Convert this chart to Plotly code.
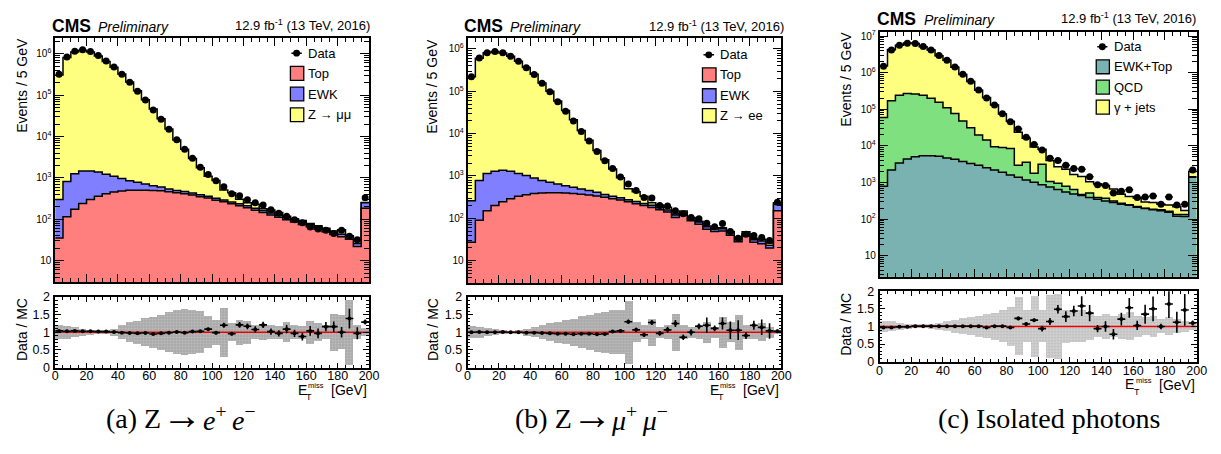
import plotly.graph_objects as go

W, H = 1221, 454
SANS = "Liberation Sans, Arial, Helvetica, sans-serif"
SERIF = "Liberation Serif, Times New Roman, serif"

# ---------------- binning (5 GeV bins, last bin holds the overflow) ----------------
edges = list(range(0, 205, 5))
centers = [e + 2.5 for e in edges[:-1]]

# ---------------- (a) dimuon-like selection ----------------
data_a = [3.2e5, 8.4e5, 1.15e6, 1.26e6, 1.13e6, 9.1e5, 6.7e5, 4.8e5, 3.2e5, 2.05e5,
          1.25e5, 7.6e4, 4.4e4, 2.6e4, 1.5e4, 8.4e3, 4.9e3, 3.0e3, 1.8e3, 1.2e3,
          850, 610, 415, 370, 295, 250, 220, 170, 140, 118,
          98, 82, 65, 58, 54, 45, 54, 39, 32, 330]
top_a = [35, 115, 175, 240, 300, 360, 415, 455, 480, 500,
         500, 500, 495, 490, 460, 435, 415, 385, 350, 325,
         290, 265, 237, 213, 190, 165, 145, 127, 112, 98,
         86, 75, 66, 57, 50, 43, 38, 33, 22, 185]
ewk_a = [265, 700, 1085, 1220, 1160, 1020, 815, 645, 485, 350,
         280, 210, 155, 110, 80, 64, 53, 46, 40, 36,
         32, 28, 25, 23, 21, 19, 17, 15, 13, 12,
         11, 10, 9, 8, 7, 6, 5.5, 5, 4, 65]
zll_a = [3.08e5, 8.15e5, 1.1e6, 1.22e6, 1.1e6, 8.9e5, 6.54e5, 4.74e5, 3.22e5, 2.08e5,
         1.28e5, 7.7e4, 4.56e4, 2.62e4, 1.47e4, 7.8e3, 4.48e3, 2.51e3, 1.36e3, 740,
         545, 215, 175, 67, 41, 46, 18, 25, 21, 8,
         6, 8, 4, 5, 4, 3, 12, 2, 6, 5]
ratio_a = [1.04, 1.03, 1.04, 1.03, 1.03, 1.02, 1.02, 1.01, 0.99, 0.98,
           0.97, 0.98, 0.95, 0.97, 0.99, 1.01, 0.99, 1.02, 1.03, 1.09,
           0.99, 1.2, 0.96, 1.21, 1.17, 1.08, 1.21, 1.02, 0.97, 1.09,
           0.97, 0.88, 1.04, 0.97, 1.16, 1.16, 1.0, 1.39, 0.97, 1.29]
ratio_err_a = [0.01, 0.01, 0.01, 0.01, 0.01, 0.01, 0.01, 0.01, 0.01, 0.01,
               0.01, 0.01, 0.015, 0.015, 0.02, 0.02, 0.025, 0.03, 0.03, 0.04,
               0.05, 0.07, 0.05, 0.08, 0.08, 0.09, 0.09, 0.09, 0.09, 0.12,
               0.1, 0.11, 0.14, 0.14, 0.13, 0.15, 0.15, 0.28, 0.17, 0.07]
mc_unc_a = [0.2, 0.18, 0.14, 0.1, 0.07, 0.05, 0.06, 0.1, 0.2, 0.28,
            0.33, 0.4, 0.44, 0.5, 0.57, 0.62, 0.65, 0.62, 0.6, 0.45,
            0.35, 0.7, 0.25, 0.36, 0.33, 0.2, 0.22, 0.2, 0.18, 0.28,
            0.2, 0.18, 0.32, 0.25, 0.2, 0.53, 0.48, 0.92, 0.2, 0.12]

# ---------------- (b) dielectron-like selection ----------------
data_b = [2.2e5, 6.1e5, 8.1e5, 8.7e5, 8.1e5, 6.7e5, 5.1e5, 3.6e5, 2.5e5, 1.55e5,
          9.7e4, 5.7e4, 3.4e4, 2.0e4, 1.13e4, 6.7e3, 3.8e3, 2.3e3, 1.5e3, 940,
          650, 455, 310, 300, 200, 195, 150, 128, 105, 98,
          76, 63, 75, 49, 34, 42, 39, 35, 30, 240]
top_b = [27, 90, 150, 200, 245, 290, 330, 360, 385, 395,
         400, 400, 395, 385, 370, 355, 335, 315, 290, 270,
         245, 220, 200, 180, 160, 140, 105, 118, 88, 72,
         55, 49, 50, 40, 28, 38, 27, 25, 20, 150]
ewk_b = [233, 690, 1000, 1100, 1125, 1010, 820, 660, 505, 385,
         315, 250, 195, 155, 125, 100, 80, 52, 40, 35,
         31, 28, 25, 23, 20, 18, 15, 14, 12, 10,
         8, 7, 7, 6, 4, 5, 4, 4, 3, 65]
zll_b = [2.197e5, 6.03e5, 8.09e5, 8.69e5, 7.99e5, 6.69e5, 5.09e5, 3.63e5, 2.52e5, 1.57e5,
         9.93e4, 5.87e4, 3.48e4, 2.07e4, 1.13e4, 6.52e3, 3.6e3, 2.04e3, 1.14e3, 600,
         224, 177, 108, 31, 26, 24, 6, 17, 5, 3,
         3, 3, 3, 3, 3, 5, 3, 3, 3, 18]
ratio_b = [1.0, 1.01, 1.0, 1.0, 1.01, 1.0, 1.0, 0.99, 0.99, 0.98,
           0.97, 0.96, 0.96, 0.945, 0.96, 0.96, 0.945, 0.955, 1.02, 1.04,
           1.3, 1.07, 0.93, 1.28, 0.97, 1.07, 1.25, 0.86, 1.0, 1.17,
           1.2, 1.11, 1.25, 1.06, 1.06, 0.91, 1.2, 1.14, 1.04, 1.03]
ratio_err_b = [0.01, 0.01, 0.01, 0.01, 0.01, 0.01, 0.01, 0.01, 0.01, 0.01,
               0.01, 0.01, 0.015, 0.015, 0.02, 0.02, 0.025, 0.03, 0.03, 0.04,
               0.06, 0.06, 0.06, 0.07, 0.07, 0.09, 0.1, 0.08, 0.09, 0.08,
               0.22, 0.08, 0.17, 0.25, 0.28, 0.1, 0.13, 0.22, 0.22, 0.05]
mc_unc_b = [0.17, 0.15, 0.12, 0.08, 0.05, 0.04, 0.06, 0.1, 0.14, 0.2,
            0.25, 0.3, 0.34, 0.38, 0.45, 0.5, 0.55, 0.58, 0.63, 0.63,
            0.9, 0.28, 0.2, 0.38, 0.15, 0.2, 0.52, 0.2, 0.15, 0.2,
            0.3, 0.15, 0.44, 0.28, 0.5, 0.2, 0.2, 0.25, 0.15, 0.05]

# ---------------- (c) isolated photons ----------------
data_c = [1.5e6, 4.2e6, 5.6e6, 6.4e6, 6.3e6, 5.2e6, 4.2e6, 2.95e6, 2.2e6, 1.42e6,
          9.1e5, 5.8e5, 3.35e5, 2.03e5, 1.32e5, 7.6e4, 4.6e4, 2.9e4, 1.73e4, 1.1e4,
          7.7e3, 4.6e3, 4.0e3, 2.95e3, 2.4e3, 2.3e3, 1.45e3, 870, 830, 520,
          580, 640, 390, 400, 430, 255, 400, 245, 255, 2.2e3]
ewktop_c = [790, 2200, 3400, 4400, 5100, 5400, 5400, 5200, 4700, 4300,
            3750, 3300, 2950, 2550, 2200, 1900, 1600, 1400, 1180, 1020,
            870, 760, 650, 555, 490, 445, 390, 350, 315, 285,
            257, 240, 210, 195, 180, 170, 155, 120, 118, 1400]
qcd_c = [5.9e4, 1.68e5, 2.37e5, 2.66e5, 2.55e5, 2.35e5, 1.95e5, 1.5e5, 1.05e5, 7.2e4,
         4.4e4, 2.8e4, 1.7e4, 1.2e4, 7.3e3, 7.1e3, 6.9e3, 1.55e3, 2.4e3, 780,
         2.3e3, 310, 310, 235, 160, 30, 130, 40, 60, 30,
         13, 7, 13, 5, 7, 10, 10, 15, 17, 50]
gjets_c = [1.49e6, 4.16e6, 5.42e6, 6.19e6, 5.98e6, 4.91e6, 3.96e6, 2.77e6, 2.07e6, 1.33e6,
           8.5e5, 5.43e5, 3.12e5, 1.95e5, 1.21e5, 6.6e4, 3.89e4, 2.07e4, 1.26e4, 7.5e3,
           5.0e3, 2.93e3, 1.74e3, 1.51e3, 1.02e3, 985, 530, 535, 455, 352,
           210, 171, 156, 96, 100, 75, 79, 84, 38, 550]
ratio_c = [0.97, 0.97, 0.99, 0.99, 1.01, 1.01, 1.01, 1.01, 1.01, 1.01,
           1.01, 1.01, 1.01, 0.97, 1.01, 1.01, 0.97, 1.23, 1.07, 1.18,
           0.94, 1.14, 1.49, 1.28, 1.44, 1.58, 1.38, 0.94, 1.0, 0.78,
           1.21, 1.53, 1.03, 1.35, 1.5, 1.0, 1.64, 1.12, 1.47, 1.1]
ratio_err_c = [0.01, 0.01, 0.01, 0.01, 0.01, 0.01, 0.01, 0.01, 0.01, 0.01,
               0.01, 0.01, 0.01, 0.015, 0.015, 0.02, 0.02, 0.05, 0.05, 0.05,
               0.08, 0.1, 0.12, 0.15, 0.15, 0.28, 0.23, 0.1, 0.15, 0.15,
               0.18, 0.28, 0.13, 0.27, 0.35, 0.08, 0.4, 0.3, 0.45, 0.07]
mc_unc_c = [0.16, 0.14, 0.1, 0.07, 0.05, 0.05, 0.07, 0.1, 0.14, 0.18,
            0.22, 0.26, 0.3, 0.34, 0.38, 0.45, 0.55, 0.83, 0.45, 0.86,
            0.45, 0.9, 0.92, 0.47, 0.45, 0.45, 0.4, 0.3, 0.35, 0.3,
            0.35, 0.4, 0.3, 0.25, 0.3, 0.2, 0.25, 0.2, 0.15, 0.1]

# ---------------- colours ----------------
C_TOP = "#ff7f7f"
C_EWK = "#7f7fff"
C_Z = "#ffff7f"
C_EWKTOP = "#7ab2b2"
C_QCD = "#7fe07f"
C_BAND_AB = "#a8a8a8"
C_BAND_C = "#d2d2d2"


def px(x):
    return x / W


def py(y):
    return 1 - y / H


def stack(components):
    """Running sums of the stacked components, bottom first."""
    out, run = [], [0.0] * len(components[0])
    for comp in components:
        run = [r + c for r, c in zip(run, comp)]
        out.append(run)
    return out


def step_y(vals):
    return list(vals) + [vals[-1]]


fig = go.Figure()


def add_main(idx, components, colors, data, xerr=False):
    xa, ya = f"x{idx}", f"y{idx}"
    cums = stack(components)
    # draw from the top of the stack downwards so lower layers sit on top
    for cum, col in reversed(list(zip(cums, colors))):
        fig.add_trace(go.Scatter(
            x=edges, y=step_y(cum), mode="lines", line_shape="hv",
            line=dict(color="black", width=1.5), fill="tozeroy", fillcolor=col,
            xaxis=xa, yaxis=ya, showlegend=False, hoverinfo="skip"))
    err_x = dict(type="constant", value=2.5, width=0, thickness=1.5, color="black") if xerr else None
    fig.add_trace(go.Scatter(
        x=centers, y=data, mode="markers",
        marker=dict(symbol="circle", size=7, color="black"),
        error_x=err_x, xaxis=xa, yaxis=ya, showlegend=False))


def add_ratio(idx, ratio, err, unc, band_color, dot_color):
    xa, ya = f"x{idx}", f"y{idx}"
    fig.add_trace(go.Bar(
        x=centers, y=[2 * u for u in unc], base=[1 - u for u in unc], width=5,
        marker=dict(color=band_color, line=dict(width=0),
                    pattern=dict(shape=".", fgcolor=dot_color, size=3, solidity=0.35)),
        xaxis=xa, yaxis=ya, showlegend=False, hoverinfo="skip"))
    fig.add_trace(go.Scatter(
        x=[0, 200], y=[1, 1], mode="lines", line=dict(color="#ee0000", width=1.5),
        xaxis=xa, yaxis=ya, showlegend=False, hoverinfo="skip"))
    fig.add_trace(go.Scatter(
        x=centers, y=ratio, mode="markers",
        marker=dict(symbol="circle", size=4, color="black"),
        error_x=dict(type="constant", value=2.5, width=0, thickness=1.6, color="black"),
        error_y=dict(type="data", array=err, width=0, thickness=1.6, color="black"),
        xaxis=xa, yaxis=ya, showlegend=False))


add_main(1, [top_a, ewk_a, zll_a], [C_TOP, C_EWK, C_Z], data_a)
add_ratio(2, ratio_a, ratio_err_a, mc_unc_a, C_BAND_AB, "#d8d8d8")
add_main(3, [top_b, ewk_b, zll_b], [C_TOP, C_EWK, C_Z], data_b)
add_ratio(4, ratio_b, ratio_err_b, mc_unc_b, C_BAND_AB, "#d8d8d8")
add_main(5, [ewktop_c, qcd_c, gjets_c], [C_EWKTOP, C_QCD, C_Z], data_c, xerr=True)
add_ratio(6, ratio_c, ratio_err_c, mc_unc_c, C_BAND_C, "#9a9a9a")

# ---------------- axes ----------------
log_major = [10 ** k for k in range(1, 8)]
log_text = ["10"] + [f"10<sup>{k}</sup>" for k in range(2, 8)]
log_minor = [m * 10 ** k for k in range(0, 8) for m in range(2, 10)]

panels = {
    "a": dict(x=(52.7, 370.0), main=(32.3, 284.0), ratio=(299.3, 372.0), ylog=(0.4775, 6.375)),
    "b": dict(x=(469.5, 786.7), main=(32.3, 285.0), ratio=(299.3, 372.0), ylog=(0.4666, 6.252)),
    "c": dict(x=(886.0, 1206.5), main=(26.0, 278.3), ratio=(293.3, 366.0), ylog=(0.428, 7.106)),
}

frame = dict(showline=True, linecolor="black", linewidth=1.6, mirror="allticks",
             ticks="inside", tickcolor="black", tickwidth=1, showgrid=False,
             zeroline=False, fixedrange=True)

layout_axes = {}
for i, key in enumerate(["a", "b", "c"]):
    p = panels[key]
    m, r = 2 * i + 1, 2 * i + 2
    xdom = [px(p["x"][0]), px(p["x"][1])]
    layout_axes[f"xaxis{m}"] = dict(
        frame, domain=xdom, anchor=f"y{m}", range=[0, 200], dtick=20, tick0=0,
        ticklen=8, showticklabels=False,
        minor=dict(ticks="inside", dtick=5, tick0=0, ticklen=4, tickcolor="black"))
    layout_axes[f"yaxis{m}"] = dict(
        frame, domain=[py(p["main"][1]), py(p["main"][0])], anchor=f"x{m}",
        type="log", range=list(p["ylog"]), tickmode="array",
        tickvals=log_major, ticktext=log_text, ticklen=9,
        tickfont=dict(family=SANS, size=10, color="black"),
        minor=dict(ticks="inside", tickmode="array", tickvals=log_minor,
                   ticklen=5, tickcolor="black"))
    layout_axes[f"xaxis{r}"] = dict(
        frame, domain=xdom, anchor=f"y{r}", range=[0, 200], dtick=20, tick0=0,
        ticklen=5, ticklabelstandoff=-4,
        tickfont=dict(family=SANS, size=12.5, color="black"),
        minor=dict(ticks="inside", dtick=5, tick0=0, ticklen=3, tickcolor="black"))
    layout_axes[f"yaxis{r}"] = dict(
        frame, domain=[py(p["ratio"][1]), py(p["ratio"][0])], anchor=f"x{r}",
        range=[0, 2], tickvals=[0, 0.5, 1, 1.5, 2], ticktext=["0", "0.5", "1", "1.5", "2"],
        ticklen=6, ticklabelstandoff=1,
        tickfont=dict(family=SANS, size=12.5, color="black"),
        minor=dict(ticks="inside", dtick=0.1, tick0=0, ticklen=3, tickcolor="black"))

# ---------------- text ----------------
annotations = []
shapes = []


def text(t, x, y, size, xanchor="left", family=SANS, angle=0, yanchor="middle"):
    annotations.append(dict(
        text=t, x=px(x), y=py(y), xref="paper", yref="paper", showarrow=False,
        xanchor=xanchor, yanchor=yanchor, textangle=angle,
        font=dict(family=family, size=size, color="black")))


header = {"a": (47.5, 93.5, 373.0, 19.5), "b": (463.5, 510.0, 791.5, 20.0), "c": (881.5, 928.5, 1208.0, 12.0)}
for key, (xc, xp, xl, yc) in header.items():
    text("<b>CMS</b>", xc, yc, 17.5)
    text("<i>Preliminary</i>", xp, yc + 1.0, 14)
    text("12.9 fb<sup>-1</sup> (13 TeV, 2016)", xl, yc - 0.5, 13, xanchor="right")

# axis titles
for xc, ym, yr in [(18.5, 81, 333), (434, 82, 333), (852, 74, 327)]:
    text("Events / 5 GeV", xc, ym, 14, xanchor="center", angle=-90)
    text("Data / MC", xc, yr, 14, xanchor="center", angle=-90)

# x-axis titles  E_T^miss [GeV]
for xr, yb in [(370.0, 395.0), (786.7, 395.0), (1206.5, 389.5)]:
    text("E", xr - 67.5, yb, 14, xanchor="center")
    text("miss", xr - 53.5, yb - 4.0, 7.5, xanchor="center")
    text("T", xr - 60.5, yb + 7.5, 9, xanchor="center")
    text("[GeV]", xr, yb + 0.5, 14, xanchor="right")

# captions: label, arrow and final state placed separately
ARROW_FONT = "Liberation Serif, serif"
text("(a) Z", 102, 425, 28, family=SERIF)
text("\u2192", 181, 421, 40, xanchor="center", family=ARROW_FONT)
text("<i>e</i><sup>+</sup>\u2009<i>e</i><sup>\u2212</sup>", 200, 425, 28, family=SERIF)
text("(b) Z", 515, 425, 28, family=SERIF)
text("\u2192", 595, 421, 40, xanchor="center", family=ARROW_FONT)
text("<i>\u03bc</i><sup>+</sup>\u2009<i>\u03bc</i><sup>\u2212</sup>", 613, 425, 28, family=SERIF)
text("(c) Isolated photons", 1057, 424.5, 28, xanchor="center", family=SERIF)

# ---------------- legends ----------------
def legend(xbox, ydata, rows, xtext, box_h=14.3):
    x0, x1 = xbox
    # data entry: marker with a short horizontal line
    shapes.append(dict(type="line", xref="paper", yref="paper",
                       x0=px(x0 + 1), x1=px(x1 - 2), y0=py(ydata), y1=py(ydata),
                       line=dict(color="black", width=1.5)))
    xm = (x0 + x1) / 2 - 0.5
    shapes.append(dict(type="circle", xref="paper", yref="paper",
                       x0=px(xm - 3.5), x1=px(xm + 3.5), y0=py(ydata + 3.5), y1=py(ydata - 3.5),
                       fillcolor="black", line=dict(color="black", width=0)))
    text("Data", xtext, ydata, 13)
    for label, col, yc in rows:
        shapes.append(dict(type="rect", xref="paper", yref="paper",
                           x0=px(x0), x1=px(x1), y0=py(yc + box_h / 2), y1=py(yc - box_h / 2),
                           fillcolor=col, line=dict(color="black", width=1.3)))
        text(label, xtext, yc, 13)


legend((290.5, 304.0), 47.7,
       [("Top", C_TOP, 68.5), ("EWK", C_EWK, 89.8), ("Z \u2192 \u03bc\u03bc", C_Z, 111.2)], 306.5)
legend((707.0, 720.7), 49.3,
       [("Top", C_TOP, 70.0), ("EWK", C_EWK, 91.5), ("Z \u2192 ee", C_Z, 112.0)], 723.0)
legend((1105.0, 1118.3), 41.0,
       [("EWK+Top", C_EWKTOP, 61.7), ("QCD", C_QCD, 82.7), ("\u03b3 + jets", C_Z, 103.3)], 1120.5)

fig.update_layout(
    width=W, height=H, margin=dict(l=0, r=0, t=0, b=0),
    paper_bgcolor="white", plot_bgcolor="white",
    barmode="overlay", bargap=0, showlegend=False,
    annotations=annotations, shapes=shapes,
    font=dict(family=SANS, color="black"),
    **layout_axes)

fig.write_html("out.html")
